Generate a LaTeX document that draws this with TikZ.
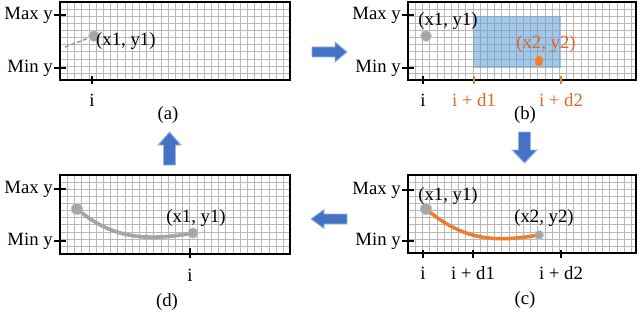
\documentclass[tikz,border=0pt]{standalone}
\usepackage{fontspec}
\setmainfont{Liberation Serif}
\usetikzlibrary{shapes.geometric}
\definecolor{arrblue}{HTML}{4472C4}
\definecolor{arredge}{HTML}{9DB5E0}
\definecolor{orng}{HTML}{ED7D31}
\definecolor{orngtxt}{HTML}{D9682A}
\definecolor{selblue}{HTML}{5B9BD5}
\definecolor{dotgray}{HTML}{A6A6A6}
\tikzset{
  gridline/.style={draw=black!28, line width=0.5pt},
  panelbox/.style={draw=black, line width=1.2pt},
  tickline/.style={draw=black, line width=0.9pt},
  otick/.style={draw=orng, line width=0.9pt},
  lbl/.style={font=\fontsize{16}{19}\selectfont, inner sep=0pt},
  olbl/.style={lbl, text=orngtxt},
  dotg/.style={fill=dotgray, draw=black!20, line width=0.6pt, circle, inner sep=0pt},
  bigarrow/.style={fill=arrblue, draw=arredge, line width=0.8pt, line join=miter},
}
\newcommand\gridpanel[4]{%
  \begin{scope}
    \clip (#1,#2) rectangle ++(#3,#4);
    \foreach \k in {1,...,32} \draw[gridline] ({#1+\k*7.2},#2) -- ++(0,#4);
    \foreach \k in {1,...,11} \draw[gridline] (#1,{#2+\k*7.1}) -- ++(#3,0);
  \end{scope}
}
\begin{document}
\begin{tikzpicture}[x=0.03cm,y=-0.03cm]
\useasboundingbox (0,0) rectangle (640,312);

% ---------------- panel (a)
\gridpanel{60}{2}{230}{78}
\draw[panelbox] (60,2) rectangle (290,80);
\draw[tickline] (54,15) -- (66,15);
\draw[tickline] (54,68) -- (66,68);
\node[lbl, anchor=east] (amax) at (53,15) {Max y};
\node[lbl, anchor=east] (amin) at (53,68) {Min y};
\draw[tickline] (92,76) -- (92,84);
\node[lbl] (ai) at (92,100) {i};
\node[lbl] (acap) at (168,115) {(a)};
\coordinate (adash) at (65,47);
\node[dotg, minimum size=9.5pt] (ap1) at (94,36) {};
\draw[black!45, dash pattern=on 3.5pt off 2pt, line width=1.1pt] (adash) -- (ap1);
\node[lbl, anchor=west] (ap1l) at (96,41) {(x1, y1)};

% ---------------- panel (b)
\gridpanel{408}{2}{228}{78}
\fill[selblue, fill opacity=0.55] (473,16) rectangle (561,68);
\draw[panelbox] (408,2) rectangle (636,80);
\draw[tickline] (402,15) -- (414,15);
\draw[tickline] (402,68) -- (414,68);
\node[lbl, anchor=east] (bmax) at (401,15) {Max y};
\node[lbl, anchor=east] (bmin) at (401,68) {Min y};
\draw[tickline] (423,76) -- (423,84);
\draw[otick] (474,76) -- (474,84);
\draw[otick] (561,76) -- (561,84);
\node[lbl] (bi) at (423,100) {i};
\node[olbl] (bd1) at (474,100) {i + d1};
\node[olbl] (bd2) at (561,100) {i + d2};
\node[lbl] (bcap) at (525,115) {(b)};
\node[dotg, minimum size=9.5pt] (bp1) at (426,36) {};
\node[lbl] (bp1l) at (448,21) {(x1, y1)};
\node[fill=orng, draw=orng!60, ellipse, minimum width=7pt, minimum height=10pt, inner sep=0pt] (bp2) at (539,61) {};
\node[olbl] (bp2l) at (546,44) {(x2, y2)};

% ---------------- panel (c)
\gridpanel{408}{175}{228}{78}
\draw[panelbox] (408,175) rectangle (636,253);
\draw[tickline] (402,190) -- (414,190);
\draw[tickline] (402,241) -- (414,241);
\node[lbl, anchor=east] (cmax) at (401,190) {Max y};
\node[lbl, anchor=east] (cmin) at (401,241) {Min y};
\draw[tickline] (423,250) -- (423,258);
\draw[tickline] (473,250) -- (473,258);
\draw[tickline] (561,250) -- (561,258);
\node[lbl] (ci) at (423,273) {i};
\node[lbl] (cd1) at (473,273) {i + d1};
\node[lbl] (cd2) at (561,273) {i + d2};
\node[lbl] (ccap) at (525,300) {(c)};
\node[dotg, minimum size=10pt] (cp1) at (426,209) {};
\node[dotg, minimum size=8pt] (cp2) at (539,235) {};
\draw[orng, line width=3pt, line cap=round] (cp1) .. controls (465,240) and (495,242) .. (cp2);
\node[lbl] (cp1l) at (448,196) {(x1, y1)};
\node[lbl] (cp2l) at (544,218) {(x2, y2)};

% ---------------- panel (d)
\gridpanel{60}{175}{230}{79}
\draw[panelbox] (60,175) rectangle (290,254);
\draw[tickline] (54,189) -- (66,189);
\draw[tickline] (54,241) -- (66,241);
\node[lbl, anchor=east] (dmax) at (53,189) {Max y};
\node[lbl, anchor=east] (dmin) at (53,241) {Min y};
\draw[tickline] (190,248) -- (190,258);
\node[lbl] (di) at (190,275) {i};
\node[lbl] (dcap) at (167,302) {(d)};
\node[dotg, minimum size=10pt] (dp1) at (77,209) {};
\node[dotg, minimum size=9pt] (dp2) at (193,233) {};
\draw[dotgray, line width=3.2pt, line cap=round] (dp1) .. controls (110,235) and (140,242) .. (dp2);
\node[lbl] (dp1l) at (196,218) {(x1, y1)};

% ---------------- block arrows
% right (a)->(b)
\draw[bigarrow] (312,47) -- (335,47) -- (335,42) -- (347,52) -- (335,62) -- (335,57) -- (312,57) -- cycle;
% down (b)->(c)
\draw[bigarrow] (518.5,132) -- (530.5,132) -- (530.5,150) -- (537,150) -- (524.5,163) -- (512,150) -- (518.5,150) -- cycle;
% left (c)->(d)
\draw[bigarrow] (347,214) -- (324,214) -- (324,209.5) -- (311,219) -- (324,228.5) -- (324,224) -- (347,224) -- cycle;
% up (d)->(a)
\draw[bigarrow] (163.5,165) -- (163.5,145) -- (158,145) -- (169.5,132) -- (181,145) -- (175.5,145) -- (175.5,165) -- cycle;
\end{tikzpicture}
\end{document}
